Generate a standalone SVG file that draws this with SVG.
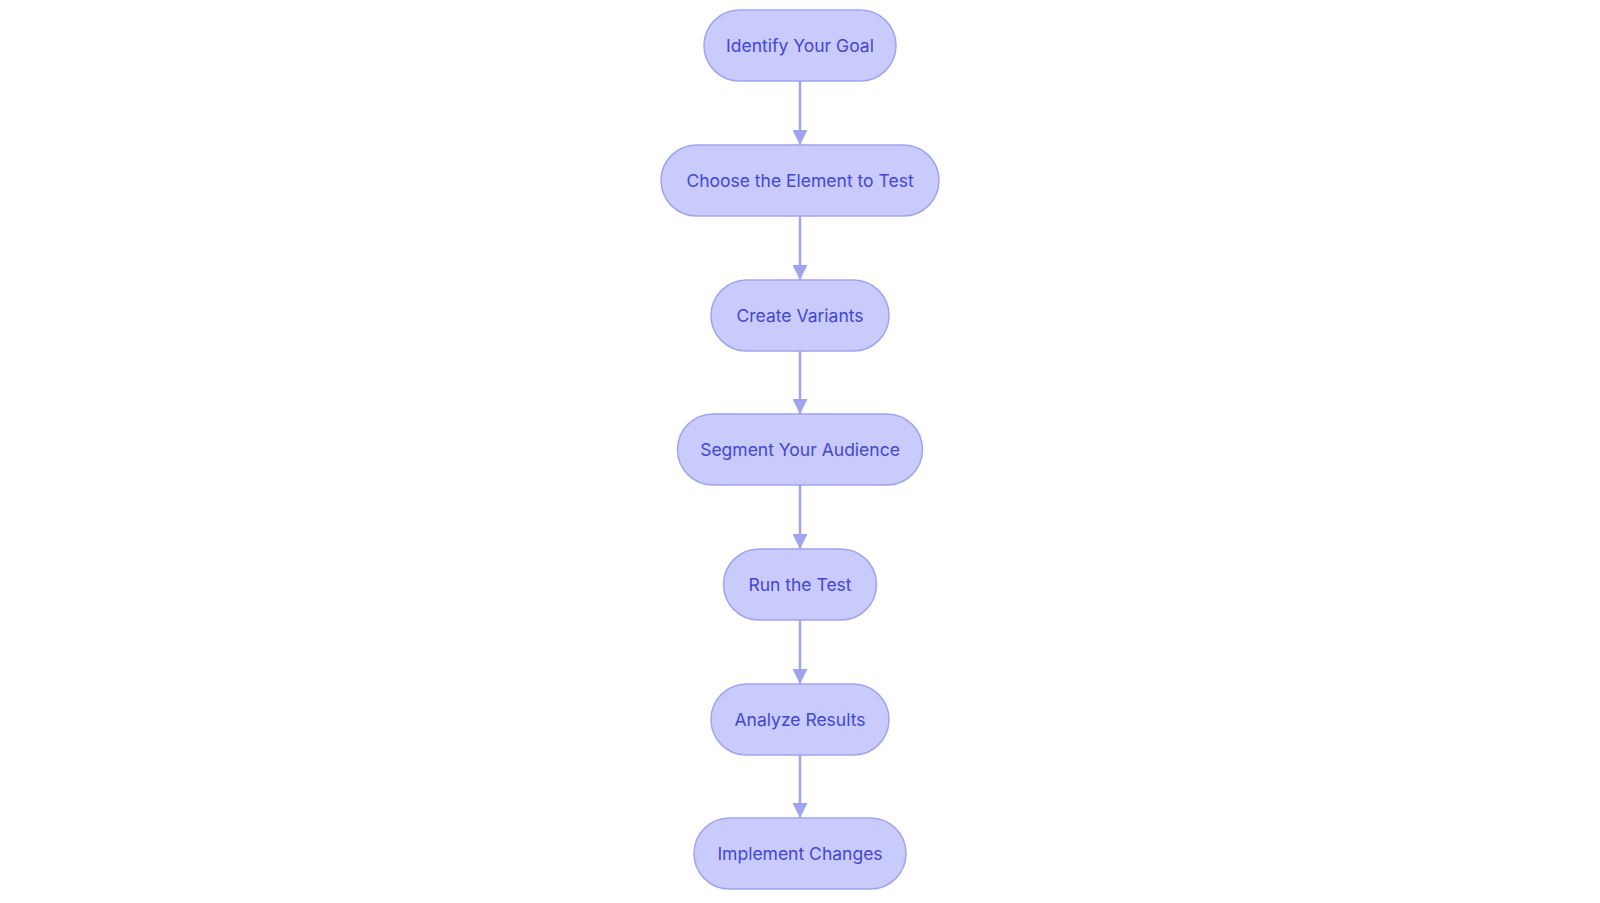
<svg xmlns="http://www.w3.org/2000/svg" width="1600" height="903" viewBox="0 0 1600 903">
<style>
.n rect{fill:#C8CBFC;stroke:#A0A4F0;stroke-width:1.5}
.n text{font-family:Inter,"Liberation Sans",sans-serif;font-size:17.5px;fill:#4545D6;text-anchor:middle;dominant-baseline:central}
.c line{stroke:#A0A4F0;stroke-width:2.5}
</style>
<defs><marker id="a" viewBox="0 0 10 10" refX="10" refY="5" markerWidth="6" markerHeight="6" orient="auto" markerUnits="strokeWidth"><path d="M0,0L10,5L0,10z" fill="#A0A4F0"/></marker></defs>
<rect width="1600" height="903" fill="#fff"/>
<g class="c">
<line x1="800" y1="81" x2="800" y2="145" marker-end="url(#a)"/>
<line x1="800" y1="216" x2="800" y2="280" marker-end="url(#a)"/>
<line x1="800" y1="351" x2="800" y2="414" marker-end="url(#a)"/>
<line x1="800" y1="485" x2="800" y2="549" marker-end="url(#a)"/>
<line x1="800" y1="620" x2="800" y2="684" marker-end="url(#a)"/>
<line x1="800" y1="755" x2="800" y2="818" marker-end="url(#a)"/>
</g>
<g id="n1" class="n"><rect x="704" y="10" width="192" height="71" rx="35.5"/><text x="800" y="45.5">Identify Your Goal</text></g>
<g id="n2" class="n"><rect x="661" y="145" width="278" height="71" rx="35.5"/><text x="800" y="180.5">Choose the Element to Test</text></g>
<g id="n3" class="n"><rect x="711" y="280" width="178" height="71" rx="35.5"/><text x="800" y="315.5">Create Variants</text></g>
<g id="n4" class="n"><rect x="677.5" y="414" width="245" height="71" rx="35.5"/><text x="800" y="449.5">Segment Your Audience</text></g>
<g id="n5" class="n"><rect x="723.5" y="549" width="153" height="71" rx="35.5"/><text x="800" y="584.5">Run the Test</text></g>
<g id="n6" class="n"><rect x="711" y="684" width="178" height="71" rx="35.5"/><text x="800" y="719.5">Analyze Results</text></g>
<g id="n7" class="n"><rect x="694" y="818" width="212" height="71" rx="35.5"/><text x="800" y="853.5">Implement Changes</text></g>
</svg>
